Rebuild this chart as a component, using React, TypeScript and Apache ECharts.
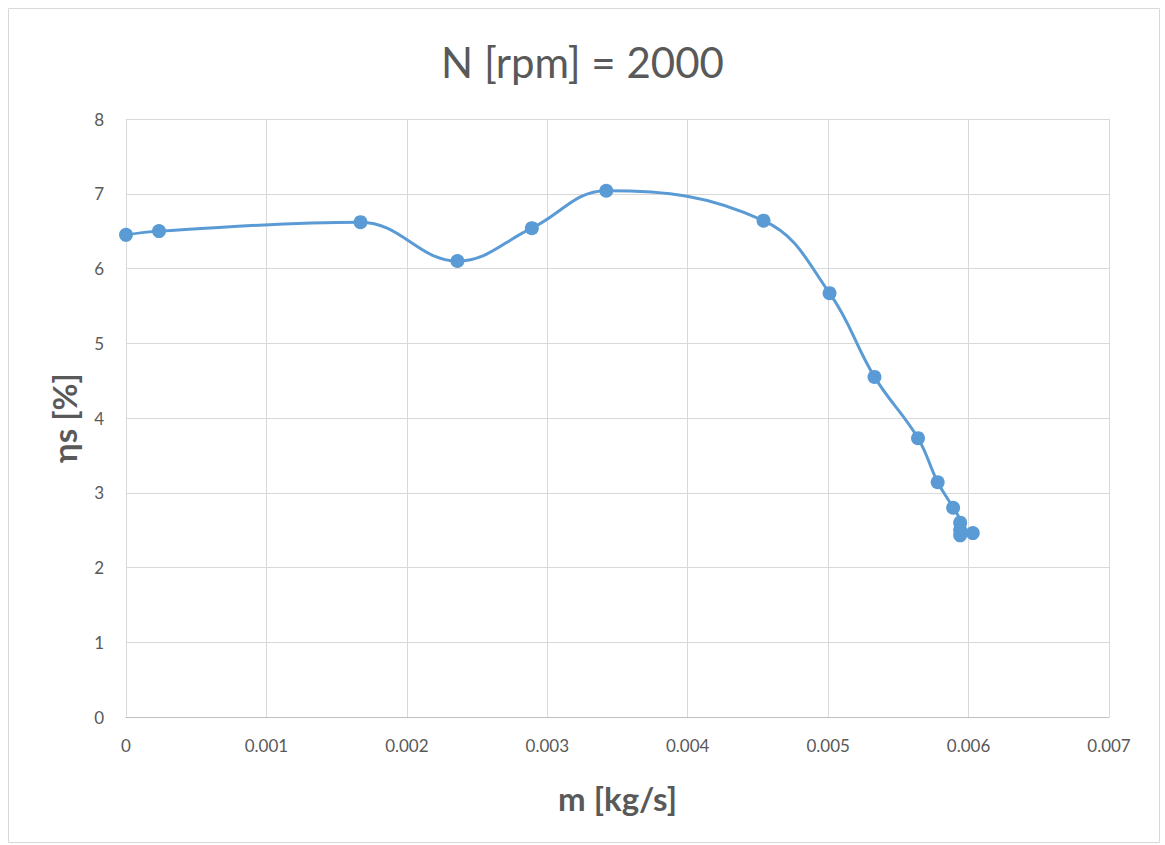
import React, { useEffect, useRef } from "react";
import * as echarts from "echarts";

const massFlow = [0, 0.000235, 0.00167, 0.00236, 0.00289, 0.00342, 0.00454, 0.00501, 0.00533, 0.00564, 0.00578, 0.00589, 0.00594, 0.00594, 0.00594, 0.00603];
const efficiency = [6.45, 6.5, 6.62, 6.1, 6.54, 7.04, 6.64, 5.67, 4.55, 3.73, 3.14, 2.8, 2.6, 2.5, 2.43, 2.46];
const xTicks = ["0", "0.001", "0.002", "0.003", "0.004", "0.005", "0.006", "0.007"];

const FONT = "Lato, 'Liberation Sans', sans-serif";
const GREY = "#595959";

export default function App() {
  const ref = useRef<HTMLDivElement>(null);
  useEffect(() => {
    if (!ref.current) return;
    const chart = echarts.init(ref.current, undefined, { renderer: "svg" });
    chart.setOption({
      animation: false,
      backgroundColor: "#fff",
      title: {
        text: "N [rpm] = 2000",
        left: "center",
        top: 36,
        textStyle: { fontFamily: FONT, fontSize: 42, fontWeight: "normal", color: GREY },
      },
      graphic: [
        {
          type: "rect",
          shape: { x: 8.5, y: 8.5, width: 1151, height: 834 },
          style: { fill: "none", stroke: "#d9d9d9", lineWidth: 1 },
          silent: true,
        },
      ],
      grid: { left: 126, right: 56, top: 119, bottom: 128 },
      xAxis: {
        type: "value",
        min: 0,
        max: 0.007,
        interval: 0.001,
        name: "m [kg/s]",
        nameLocation: "middle",
        nameGap: 64,
        nameTextStyle: { fontFamily: FONT, fontSize: 33, fontWeight: "bold", color: GREY },
        axisLine: { show: true, lineStyle: { color: "#bfbfbf", width: 1 } },
        axisTick: { show: false },
        axisLabel: {
          fontFamily: FONT,
          fontSize: 17,
          color: GREY,
          margin: 20,
          formatter: (v: number) => {
            const i = Math.round(v / 0.001);
            return xTicks[i] ?? "";
          },
        },
        splitLine: { show: true, lineStyle: { color: "#d9d9d9", width: 1 } },
      },
      yAxis: {
        type: "value",
        min: 0,
        max: 8,
        interval: 1,
        name: "ηs [%]",
        nameLocation: "middle",
        nameGap: 46,
        nameRotate: 90,
        nameTextStyle: { fontFamily: FONT, fontSize: 33, fontWeight: "bold", color: GREY },
        axisLine: { show: false },
        axisTick: { show: false },
        axisLabel: { fontFamily: FONT, fontSize: 17, color: GREY, margin: 22 },
        splitLine: { show: true, lineStyle: { color: "#d9d9d9", width: 1 } },
      },
      series: [
        {
          type: "line",
          data: massFlow.map((x, i) => [x, efficiency[i]]),
          smooth: 0.4,
          symbol: "circle",
          symbolSize: 14,
          lineStyle: { color: "#5B9BD5", width: 3 },
          itemStyle: { color: "#5B9BD5" },
        },
      ],
    });
    return () => chart.dispose();
  }, []);
  return (
    <div
      ref={ref}
      style={{ position: "absolute", left: 0, top: 0, width: 1165, height: 845 }}
    />
  );
}
